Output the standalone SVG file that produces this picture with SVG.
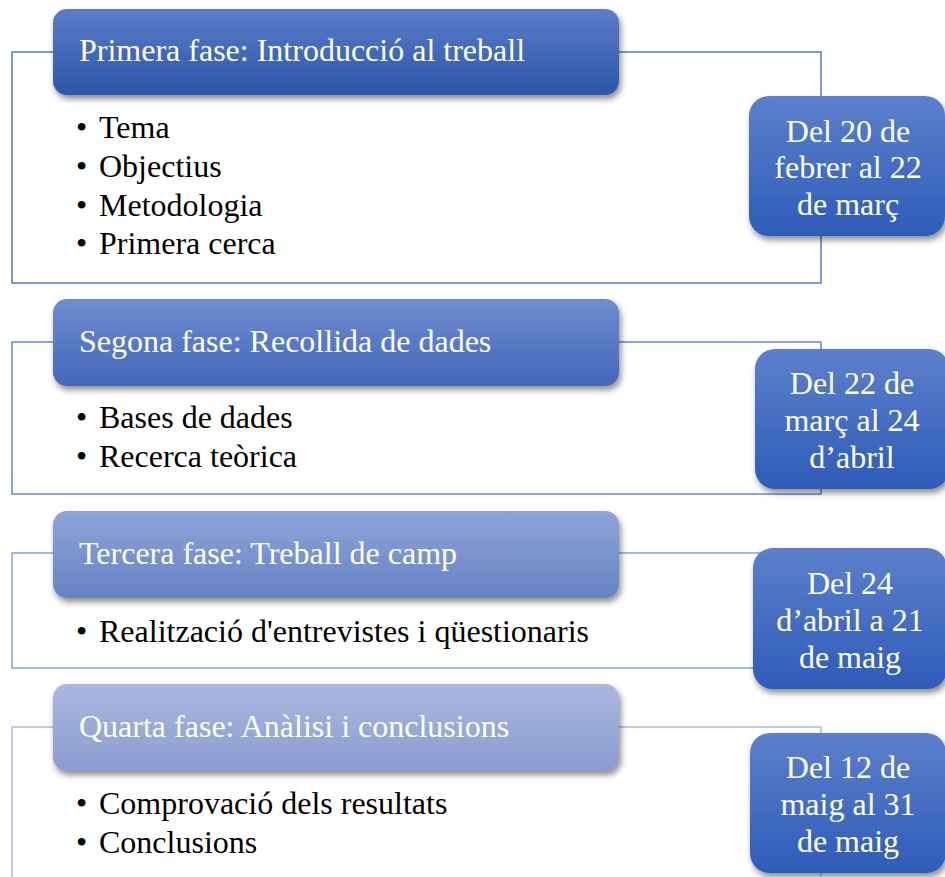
<svg xmlns="http://www.w3.org/2000/svg" width="945" height="877" viewBox="0 0 945 877" font-family="'Liberation Serif', 'DejaVu Serif', serif">
<defs>
<linearGradient id="g1" x1="0" y1="0" x2="0" y2="1"><stop offset="0" stop-color="#5A7CC8"/><stop offset="1" stop-color="#2D56A9"/></linearGradient>
<linearGradient id="g2" x1="0" y1="0" x2="0" y2="1"><stop offset="0" stop-color="#6F8CCF"/><stop offset="1" stop-color="#4467BA"/></linearGradient>
<linearGradient id="g3" x1="0" y1="0" x2="0" y2="1"><stop offset="0" stop-color="#8FA4D8"/><stop offset="1" stop-color="#6683C6"/></linearGradient>
<linearGradient id="g4" x1="0" y1="0" x2="0" y2="1"><stop offset="0" stop-color="#AAB7DF"/><stop offset="1" stop-color="#8A9DD0"/></linearGradient>
<linearGradient id="gd" x1="0" y1="0" x2="0" y2="1"><stop offset="0" stop-color="#5C80CB"/><stop offset="1" stop-color="#2E5CB8"/></linearGradient>
<filter id="sh" x="-10%" y="-10%" width="125%" height="135%"><feDropShadow dx="2" dy="4" stdDeviation="3" flood-color="#000" flood-opacity="0.45"/></filter>
</defs>
<style>
.frame{fill:none;stroke-width:1.4}
.head{filter:url(#sh)}
text{font-family:'Liberation Serif','DejaVu Serif',serif}
.ht{font-size:32px;fill:#fff}
.bt{font-size:32px;fill:#000}
.dt{font-size:32px;fill:#fff;text-anchor:middle}
</style>
<rect width="945" height="877" fill="#fff"/>

<g id="phase1">
<rect class="frame" x="12" y="52" width="809" height="231" stroke="#4A6EBF"/>
<rect class="head" x="53" y="9" width="566" height="86" rx="14" fill="url(#g1)"/>
<text class="ht" x="79" y="61">Primera fase: Introducció al treball</text>
<text class="bt" x="76" y="138">•</text><text class="bt" x="99" y="138">Tema</text>
<text class="bt" x="76" y="177">•</text><text class="bt" x="99" y="177">Objectius</text>
<text class="bt" x="76" y="216">•</text><text class="bt" x="99" y="216">Metodologia</text>
<text class="bt" x="76" y="254">•</text><text class="bt" x="99" y="254">Primera cerca</text>
</g>
<g id="date1">
<rect class="head" x="749" y="96" width="196" height="140" rx="20" fill="url(#gd)"/>
<text class="dt" x="848" y="142">Del 20 de</text>
<text class="dt" x="848" y="178">febrer al 22</text>
<text class="dt" x="848" y="215">de març</text>
</g>

<g id="phase2">
<rect class="frame" x="12" y="342" width="809" height="152" stroke="#5E7DCA"/>
<rect class="head" x="53" y="299" width="566" height="87" rx="14" fill="url(#g2)"/>
<text class="ht" x="79" y="352">Segona fase: Recollida de dades</text>
<text class="bt" x="76" y="428">•</text><text class="bt" x="99" y="428">Bases de dades</text>
<text class="bt" x="76" y="467">•</text><text class="bt" x="99" y="467">Recerca teòrica</text>
</g>
<g id="date2">
<rect class="head" x="755" y="349" width="194" height="140" rx="20" fill="url(#gd)"/>
<text class="dt" x="852" y="394">Del 22 de</text>
<text class="dt" x="852" y="431">març al 24</text>
<text class="dt" x="852" y="468">d’abril</text>
</g>

<g id="phase3">
<rect class="frame" x="12" y="553" width="809" height="115" stroke="#7F98D4"/>
<rect class="head" x="53" y="511" width="566" height="87" rx="14" fill="url(#g3)"/>
<text class="ht" x="79" y="564">Tercera fase: Treball de camp</text>
<text class="bt" x="76" y="642">•</text><text class="bt" x="99" y="642">Realització d'entrevistes i qüestionaris</text>
</g>
<g id="date3">
<rect class="head" x="753" y="548" width="194" height="141" rx="20" fill="url(#gd)"/>
<text class="dt" x="850" y="594">Del 24</text>
<text class="dt" x="850" y="631">d’abril a 21</text>
<text class="dt" x="850" y="668">de maig</text>
</g>

<g id="phase4">
<rect class="frame" x="12" y="727" width="809" height="200" stroke="#A8B7E0"/>
<rect class="head" x="53" y="684" width="566" height="87" rx="14" fill="url(#g4)"/>
<text class="ht" x="79" y="737">Quarta fase: Anàlisi i conclusions</text>
<text class="bt" x="76" y="814">•</text><text class="bt" x="99" y="814">Comprovació dels resultats</text>
<text class="bt" x="76" y="853">•</text><text class="bt" x="99" y="853">Conclusions</text>
</g>
<g id="date4">
<rect class="head" x="750" y="733" width="196" height="140" rx="20" fill="url(#gd)"/>
<text class="dt" x="848" y="778">Del 12 de</text>
<text class="dt" x="848" y="815">maig al 31</text>
<text class="dt" x="848" y="852">de maig</text>
</g>
<g id="connectors"></g>
</svg>
